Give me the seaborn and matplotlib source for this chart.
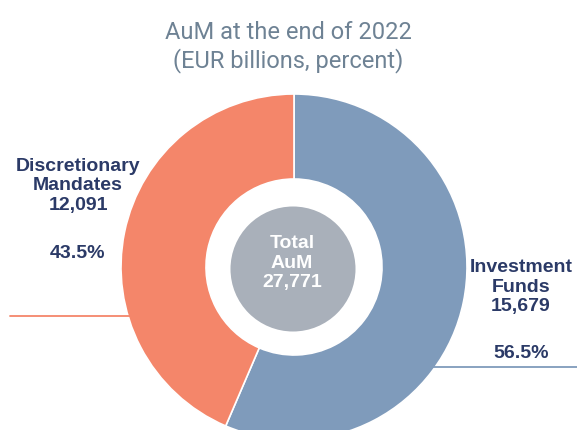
import matplotlib
matplotlib.use("Agg")
import matplotlib.pyplot as plt
import seaborn as sns
from matplotlib.patches import Circle

# ---- data ----
categories = ["Investment\nFunds", "Discretionary\nMandates"]
values = [15679, 12091]
percents = ["56.5%", "43.5%"]
total_label = "Total\nAuM\n27,771"
title = "AuM at the end of 2022\n(EUR billions, percent)"

colors = ["#7F9BBB", "#F4866A"]
navy = "#2B3A67"

sns.set_style("white")
plt.rcParams["font.family"] = ["Liberation Sans", "DejaVu Sans"]

W, H = 577, 430
fig = plt.figure(figsize=(W / 100, H / 100), dpi=100)
ax = fig.add_axes([0, 0, 1, 1])

cx, cy = 294, H - 267
R, r_hole, r_core = 173, 88, 62.5

ax.pie(values, startangle=90, counterclock=False, colors=colors,
       center=(cx, cy), radius=R,
       wedgeprops=dict(width=R - r_hole, edgecolor="white", linewidth=1.2))
ax.add_patch(Circle((cx - 1, cy - 2), r_core, facecolor="#A9B0BA", edgecolor="none", zorder=3))

ax.set_xlim(0, W)
ax.set_ylim(0, H)
ax.set_aspect("auto")
ax.axis("off")

# leader lines
ax.plot([10, 130], [H - 316, H - 316], color=colors[1], lw=1.3, zorder=1)
ax.plot([430, 577], [H - 367, H - 367], color=colors[0], lw=1.3, zorder=1)

# title
fig.text(0.5, 1 - 47 / H, title, ha="center", va="center", fontsize=17,
         color="#6E8294", family=["Roboto", "DejaVu Sans"], linespacing=1.25)

# labels
def label(x, y_mid, name, val):
    ax.text(x, H - y_mid, name + "\n" + f"{val:,}", ha="center", va="center",
            fontsize=14, fontweight="bold", color=navy, linespacing=1.2)

label(78, 186, categories[1], values[1])
ax.text(78, H - 254, percents[1], ha="center", va="center", fontsize=14,
        fontweight="bold", color=navy)
label(521, 287, categories[0], values[0])
ax.text(521, H - 354, percents[0], ha="center", va="center", fontsize=14,
        fontweight="bold", color=navy)

ax.text(cx - 2, H - 263, total_label, ha="center", va="center", fontsize=14,
        fontweight="bold", color="white", linespacing=1.2, zorder=4)

fig.savefig("out.png", dpi=100)
